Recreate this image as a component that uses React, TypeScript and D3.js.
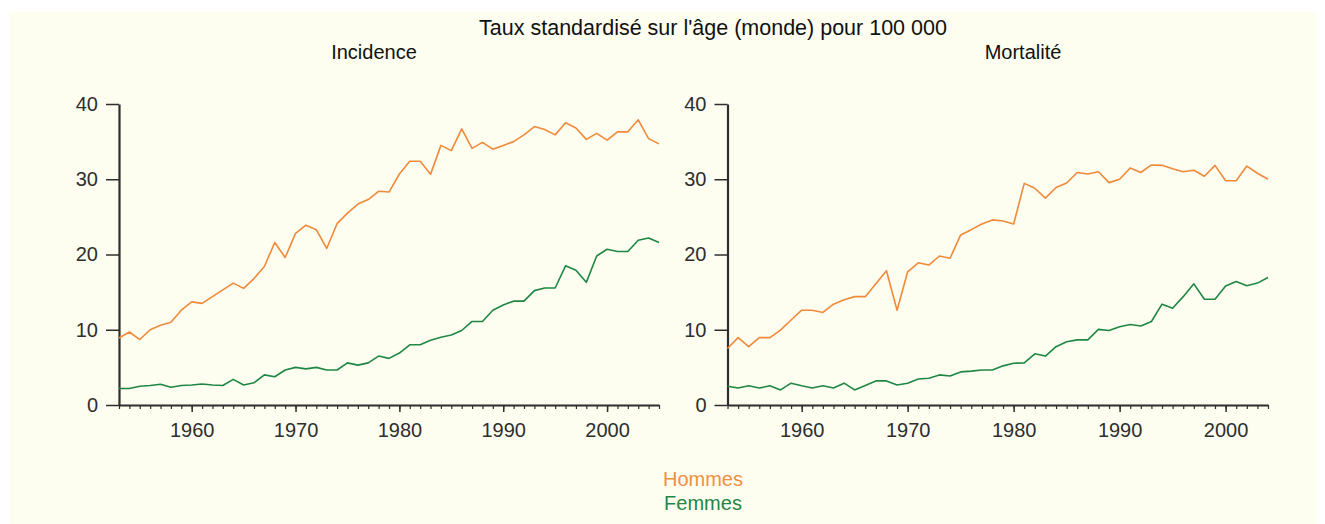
import React, { useEffect, useRef } from 'react'
import * as d3 from 'd3'

// years and age-standardised rates per 100 000
const incidenceYears = d3.range(1953, 2006)
const mortaliteYears = d3.range(1953, 2005)

const incidenceHommes = [
  8.9, 9.7, 8.7, 10.0, 10.6, 11.0, 12.6, 13.7, 13.5, 14.4, 15.3, 16.2, 15.5, 16.8,
  18.4, 21.6, 19.6, 22.8, 23.9, 23.3, 20.8, 24.1, 25.5, 26.7, 27.3, 28.4, 28.3, 30.7,
  32.4, 32.4, 30.65, 34.5, 33.8, 36.7, 34.1, 34.9, 34.0, 34.5, 35.0, 35.9, 37.0, 36.6,
  35.9, 37.5, 36.8, 35.3, 36.1, 35.2, 36.3, 36.3, 37.9, 35.4, 34.7
]
const incidenceFemmes = [
  2.2, 2.2, 2.5, 2.6, 2.75, 2.35, 2.6, 2.65, 2.8, 2.65, 2.6, 3.4, 2.65, 2.95,
  4.0, 3.75, 4.65, 5.0, 4.8, 5.0, 4.65, 4.65, 5.6, 5.3, 5.6, 6.5, 6.2, 6.9,
  8.0, 8.0, 8.6, 9.0, 9.3, 9.9, 11.1, 11.1, 12.6, 13.3, 13.8, 13.8, 15.2, 15.55,
  15.55, 18.5, 17.9, 16.3, 19.8, 20.7, 20.4, 20.4, 21.9, 22.2, 21.6
]
const mortaliteHommes = [
  7.5, 8.95, 7.75, 8.95, 8.95, 9.95, 11.3, 12.6, 12.6, 12.3, 13.4, 14.0, 14.4, 14.4,
  16.1, 17.85, 12.6, 17.7, 18.9, 18.6, 19.8, 19.5, 22.6, 23.3, 24.05, 24.6, 24.45,
  24.05, 29.45, 28.8, 27.5, 28.9, 29.5, 30.9, 30.7, 31.0, 29.55, 30.0, 31.5, 30.9,
  31.9, 31.85, 31.4, 31.0, 31.2, 30.4, 31.85, 29.8, 29.8, 31.75, 30.8, 30.0
]
const mortaliteFemmes = [
  2.5, 2.25, 2.55, 2.25, 2.55, 2.0, 2.9, 2.55, 2.25, 2.55, 2.25, 2.9, 2.0, 2.6,
  3.2, 3.2, 2.65, 2.9, 3.45, 3.55, 4.0, 3.85, 4.4, 4.5, 4.65, 4.65, 5.2,
  5.55, 5.6, 6.8, 6.5, 7.75, 8.4, 8.65, 8.65, 10.05, 9.9, 10.4, 10.7, 10.5,
  11.1, 13.4, 12.85, 14.4, 16.1, 14.05, 14.05, 15.8, 16.4, 15.85, 16.2, 16.95
]

const yTicks = [0, 10, 20, 30, 40]
const decadeTicks = [1960, 1970, 1980, 1990, 2000]

const title = "Taux standardisé sur l'âge (monde) pour 100 000"
const legendLabels = ['Hommes', 'Femmes']

const ORANGE = '#f08a3a'
const GREEN = '#1f8746'
const INK = '#2e2e2e'
const FONT = '"Liberation Sans", Arial, sans-serif'

const W = 1325
const H = 524

const panels = [
  { name: 'Incidence', years: incidenceYears, hommes: incidenceHommes, femmes: incidenceFemmes, left: 119, right: 659, titleX: 374 },
  { name: 'Mortalité', years: mortaliteYears, hommes: mortaliteHommes, femmes: mortaliteFemmes, left: 727.5, right: 1268, titleX: 1023 }
]

export default function App() {
  const ref = useRef(null)

  useEffect(() => {
    const root = d3.select(ref.current)
    root.selectAll('*').remove()

    // page coordinates: the body margin puts the svg at (8, 8)
    const svg = root.append('svg')
      .attr('width', W - 8)
      .attr('height', H - 8)
      .style('display', 'block')
    const g = svg.append('g').attr('transform', 'translate(-8,-8)')

    g.append('rect')
      .attr('x', 9).attr('y', 12)
      .attr('width', W - 9).attr('height', H - 12)
      .attr('fill', '#fdfdf0')

    g.append('text')
      .attr('x', 713).attr('y', 35)
      .attr('text-anchor', 'middle')
      .attr('font-family', FONT).attr('font-size', 21.5)
      .attr('fill', '#111')
      .text(title)

    const y = d3.scaleLinear().domain([0, 40]).range([405, 104])

    panels.forEach(function(p) {
      const x = d3.scaleLinear()
        .domain([p.years[0], p.years[p.years.length - 1]])
        .range([p.left, p.right])

      const panel = g.append('g')

      panel.append('text')
        .attr('x', p.titleX).attr('y', 59)
        .attr('text-anchor', 'middle')
        .attr('font-family', FONT).attr('font-size', 20)
        .attr('fill', '#111')
        .text(p.name)

      // minor ticks, one per year
      const minor = d3.axisBottom(x).tickValues(p.years).tickSize(4).tickSizeOuter(0).tickFormat(() => '')
      panel.append('g')
        .attr('transform', 'translate(0,405)')
        .call(minor)
        .call(s => s.select('.domain').remove())
        .call(s => s.selectAll('line').attr('stroke', INK).attr('stroke-width', 1.2))

      const major = d3.axisBottom(x).tickValues(decadeTicks).tickSize(7).tickSizeOuter(0).tickPadding(11).tickFormat(d3.format('d'))
      panel.append('g')
        .attr('transform', 'translate(0,405)')
        .call(major)
        .call(s => s.select('.domain').attr('stroke', INK).attr('stroke-width', 2.2))
        .call(s => s.selectAll('line').attr('stroke', INK).attr('stroke-width', 1.5))
        .call(s => s.selectAll('text').attr('font-family', FONT).attr('font-size', 20).attr('fill', INK))

      const yaxis = d3.axisLeft(y).tickValues(yTicks).tickSize(13).tickSizeOuter(0).tickPadding(8)
      panel.append('g')
        .attr('transform', 'translate(' + p.left + ',0)')
        .call(yaxis)
        .call(s => s.select('.domain').attr('stroke', INK).attr('stroke-width', 2.2))
        .call(s => s.selectAll('line').attr('stroke', INK).attr('stroke-width', 1.5))
        .call(s => s.selectAll('text').attr('font-family', FONT).attr('font-size', 20).attr('fill', INK))

      const line = d3.line()
        .x((d, i) => x(p.years[i]))
        .y(d => y(d))

      panel.append('path')
        .datum(p.hommes)
        .attr('fill', 'none')
        .attr('stroke', ORANGE)
        .attr('stroke-width', 1.6)
        .attr('stroke-linejoin', 'round')
        .attr('d', line)

      panel.append('path')
        .datum(p.femmes)
        .attr('fill', 'none')
        .attr('stroke', GREEN)
        .attr('stroke-width', 1.6)
        .attr('stroke-linejoin', 'round')
        .attr('d', line)
    })

    const legend = g.append('g')
    legend.selectAll('text')
      .data(legendLabels)
      .enter()
      .append('text')
      .attr('x', 703)
      .attr('y', (d, i) => 486 + i * 24)
      .attr('text-anchor', 'middle')
      .attr('font-family', FONT).attr('font-size', 20)
      .attr('fill', (d, i) => (i === 0 ? '#f0903e' : GREEN))
      .text(d => d)
  }, [])

  return <div ref={ref}></div>
}
